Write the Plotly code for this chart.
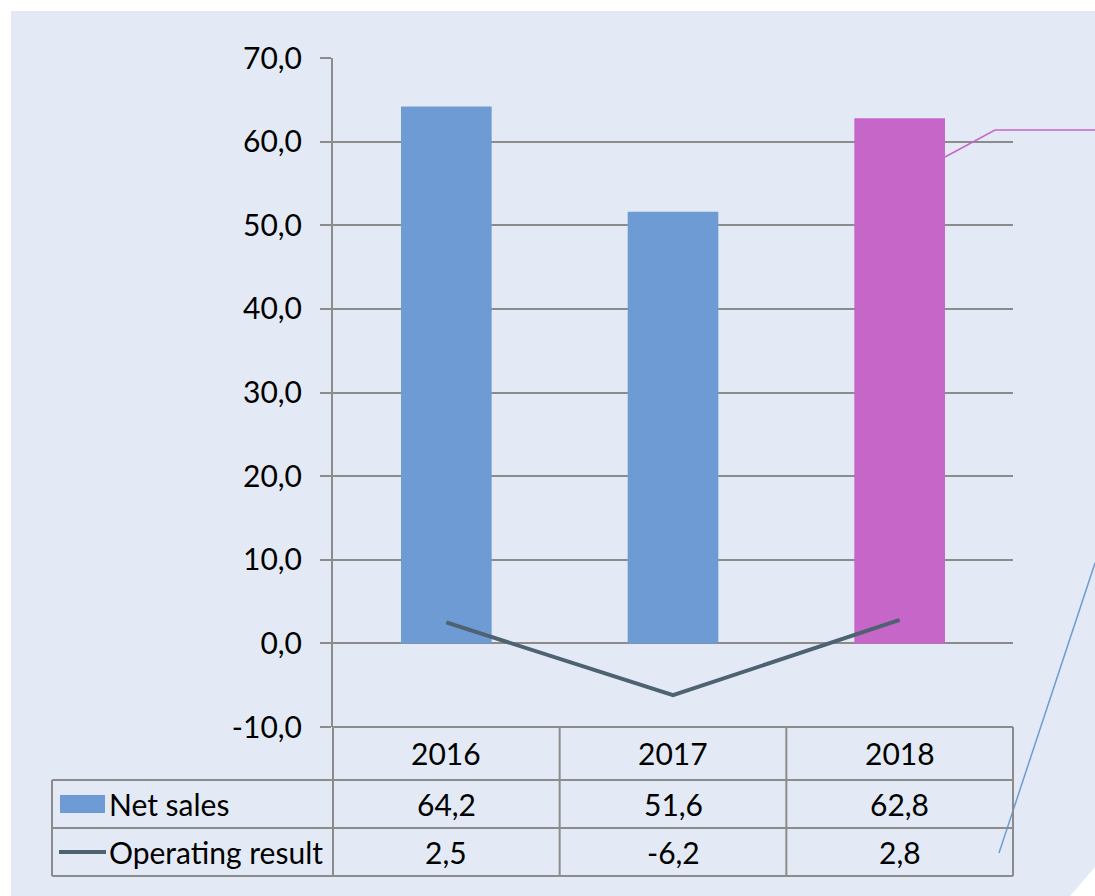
import plotly.graph_objects as go

years = ["2016", "2017", "2018"]
net_sales = [64.2, 51.6, 62.8]
operating_result = [2.5, -6.2, 2.8]
series_names = ["Net sales", "Operating result"]
y_ticks = [-10, 0, 10, 20, 30, 40, 50, 60, 70]

W, H = 1095, 896
L, R, T, B = 333, 1013, 58, 727
FONT = "Lato"
FS = 30
PANEL = "#E3EAF5"
GRID = "#8C8C8C"
BLUE = "#6F9BD4"
MAGENTA = "#C666C9"
LINEC = "#4F6272"

def fmt(v):
    return f"{v:.1f}".replace(".", ",")

def px(x):
    return x / W

def py(y):
    return 1 - y / H

fig = go.Figure()
fig.add_trace(go.Bar(x=years, y=net_sales, name=series_names[0],
                     marker=dict(color=[BLUE, BLUE, MAGENTA], line=dict(width=0)),
                     width=0.4, showlegend=False))
fig.add_trace(go.Scatter(x=years, y=operating_result, name=series_names[1],
                         mode="lines", line=dict(color=LINEC, width=4),
                         showlegend=False))

shapes = []
# panel with cut corner
shapes.append(dict(type="path", xref="paper", yref="paper", layer="below",
                   path=f"M {px(11)} {py(11)} L 1 {py(11)} L 1 {py(867)} L {px(1070)} 0 L {px(11)} 0 Z",
                   fillcolor=PANEL, line=dict(width=0)))
# decorative lines
shapes.append(dict(type="path", xref="paper", yref="paper",
                   path=f"M {px(945)} {py(157)} L {px(995)} {py(130)} L 1 {py(130)}",
                   line=dict(color=MAGENTA, width=1.5)))
shapes.append(dict(type="line", xref="paper", yref="paper",
                   x0=px(999), y0=py(853), x1=px(1095), y1=py(563),
                   line=dict(color=BLUE, width=1.5)))
# table lines
rows = [727, 780, 828, 876]
for i, ry in enumerate(rows):
    x0 = L if i == 0 else 52
    shapes.append(dict(type="line", xref="paper", yref="paper",
                       x0=px(x0), x1=px(R), y0=py(ry), y1=py(ry),
                       line=dict(color=GRID, width=2)))
for cx in [L, L + (R - L) / 3, L + 2 * (R - L) / 3, R]:
    shapes.append(dict(type="line", xref="paper", yref="paper",
                       x0=px(cx), x1=px(cx), y0=py(727), y1=py(876),
                       line=dict(color=GRID, width=2)))
shapes.append(dict(type="line", xref="paper", yref="paper",
                   x0=px(52), x1=px(52), y0=py(780), y1=py(876),
                   line=dict(color=GRID, width=2)))
# legend icons
shapes.append(dict(type="rect", xref="paper", yref="paper",
                   x0=px(60), x1=px(105), y0=py(813), y1=py(795),
                   fillcolor=BLUE, line=dict(width=0)))
shapes.append(dict(type="line", xref="paper", yref="paper",
                   x0=px(59), x1=px(106), y0=py(852), y1=py(852),
                   line=dict(color=LINEC, width=4)))

annotations = []
row_centers = [753, 804, 852]
for j, yr in enumerate(years):
    cells = [yr, fmt(net_sales[j]), fmt(operating_result[j])]
    for r, txt in enumerate(cells):
        annotations.append(dict(x=j, xref="x", y=py(row_centers[r]), yref="paper",
                                text=txt, showarrow=False, xanchor="center", yanchor="middle",
                                font=dict(family=FONT, size=FS, color="black")))
for k, nm in enumerate(series_names):
    annotations.append(dict(x=px(107), xref="paper", y=py(row_centers[k + 1]), yref="paper",
                            text=nm, showarrow=False, xanchor="left", yanchor="middle",
                            font=dict(family=FONT, size=FS, color="black")))

fig.update_layout(
    width=W, height=H,
    margin=dict(l=0, r=0, t=0, b=0, pad=0, autoexpand=False),
    paper_bgcolor="white", plot_bgcolor="rgba(0,0,0,0)",
    shapes=shapes, annotations=annotations,
    font=dict(family=FONT, size=FS, color="black"),
)
fig.update_xaxes(type="category", range=[-0.5, 2.5], domain=[px(L), px(R)],
                 automargin=False,
                 showticklabels=False, showgrid=False, zeroline=False,
                 showline=False, ticks="")
fig.update_yaxes(range=[-10, 70], domain=[py(B), py(T)], automargin=False,
                 tickmode="array", tickvals=y_ticks, ticktext=[fmt(v) for v in y_ticks],
                 showgrid=True, gridcolor=GRID, gridwidth=2, zeroline=False,
                 showline=True, linecolor=GRID, linewidth=2,
                 ticks="outside", ticklen=11, tickcolor=GRID, tickwidth=2,
                 ticklabelstandoff=12,
                 tickfont=dict(family=FONT, size=FS, color="black"))

fig.write_html("out.html", config={"displayModeBar": False},
               post_script="document.body.style.margin='0px';")
